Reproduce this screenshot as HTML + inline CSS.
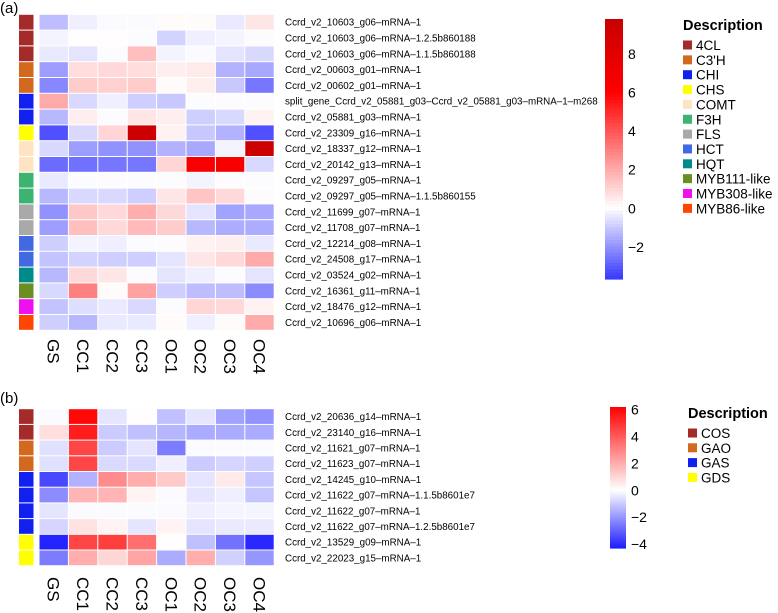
<!DOCTYPE html>
<html><head><meta charset="utf-8"><style>
html,body{margin:0;padding:0;background:#fff;}
svg{display:block;font-family:"Liberation Sans",Arial,sans-serif;}
</style></head><body>
<svg id="chart" width="778" height="613" viewBox="0 0 778 613"></svg>
<script>
const columns = ["GS","CC1","CC2","CC3","OC1","OC2","OC3","OC4"];
const genesA = ["Ccrd_v2_10603_g06–mRNA–1","Ccrd_v2_10603_g06–mRNA–1.2.5b860188","Ccrd_v2_10603_g06–mRNA–1.1.5b860188","Ccrd_v2_00603_g01–mRNA–1","Ccrd_v2_00602_g01–mRNA–1","split_gene_Ccrd_v2_05881_g03–Ccrd_v2_05881_g03–mRNA–1–m268","Ccrd_v2_05881_g03–mRNA–1","Ccrd_v2_23309_g16–mRNA–1","Ccrd_v2_18337_g12–mRNA–1","Ccrd_v2_20142_g13–mRNA–1","Ccrd_v2_09297_g05–mRNA–1","Ccrd_v2_09297_g05–mRNA–1.1.5b860155","Ccrd_v2_11699_g07–mRNA–1","Ccrd_v2_11708_g07–mRNA–1","Ccrd_v2_12214_g08–mRNA–1","Ccrd_v2_24508_g17–mRNA–1","Ccrd_v2_03524_g02–mRNA–1","Ccrd_v2_16361_g11–mRNA–1","Ccrd_v2_18476_g12–mRNA–1","Ccrd_v2_10696_g06–mRNA–1"];
const groupsA = ["4CL","4CL","4CL","C3'H","C3'H","CHI","CHI","CHS","COMT","COMT","F3H","F3H","FLS","FLS","HCT","HCT","HQT","MYB111-like","MYB308-like","MYB86-like"];
const valuesA = [
[-1.2,-0.3,-0.1,-0.1,0.1,0.1,-0.4,0.6],
[-0.2,0.05,0.05,-0.05,-0.8,-0.3,-0.2,-0.05],
[-0.4,-0.5,-0.05,1.5,-0.2,-0.1,-0.5,-0.7],
[-1.8,0.8,0.9,0.8,0.4,0.5,-1.4,-1.6],
[-2.2,1.2,1.1,1.2,0.1,0.4,-1.0,-2.5],
[2.0,-0.7,-0.3,-0.9,-1.0,-0.05,-0.05,-0.05],
[-1.3,0.4,-0.05,0.6,0.4,-0.9,-0.7,0.3],
[-3.2,-0.7,1.0,9.5,0.3,-1.0,-1.4,-3.2],
[-0.7,-1.8,-2.0,-2.0,-1.4,-1.6,-0.2,9.5],
[-2.7,-2.6,-2.5,-2.5,1.0,6.5,6.5,-0.7],
[-0.4,-0.05,-0.05,-0.05,-0.05,-0.2,-0.05,-0.05],
[-1.3,-0.7,-0.7,-0.9,0.6,1.4,0.9,-0.05],
[-2.0,1.3,0.9,1.9,0.9,-0.5,-1.7,-1.6],
[-1.8,1.5,0.9,1.6,1.2,-1.3,-1.5,-1.5],
[-0.9,-0.2,-0.3,-0.05,-0.05,0.3,0.4,-0.4],
[-1.1,-0.8,-0.9,-0.9,-0.5,0.6,0.9,2.0],
[-1.3,0.9,0.6,-0.05,-0.5,-0.3,-0.05,-0.5],
[-0.7,3.0,0.1,2.2,-0.9,-1.2,-1.2,-2.1],
[-1.1,-0.6,-0.4,-0.7,-0.05,1.0,0.9,0.3],
[-0.9,-1.3,-0.4,-0.4,0.1,-0.3,0.1,2.0]];
const legendA = ["4CL","C3'H","CHI","CHS","COMT","F3H","FLS","HCT","HQT","MYB111-like","MYB308-like","MYB86-like"];
const legendColorsA = ["#a52a2a","#d2691e","#1020f0","#ffff00","#ffe4c4","#3cb371","#a9a9a9","#4169e1","#008b8b","#6b8e23","#ee10ee","#ff4500"];
const ticksA = [8,6,4,2,0,-2];
const genesB = ["Ccrd_v2_20636_g14–mRNA–1","Ccrd_v2_23140_g16–mRNA–1","Ccrd_v2_11621_g07–mRNA–1","Ccrd_v2_11623_g07–mRNA–1","Ccrd_v2_14245_g10–mRNA–1","Ccrd_v2_11622_g07–mRNA–1.1.5b8601e7","Ccrd_v2_11622_g07–mRNA–1","Ccrd_v2_11622_g07–mRNA–1.2.5b8601e7","Ccrd_v2_13529_g09–mRNA–1","Ccrd_v2_22023_g15–mRNA–1"];
const groupsB = ["COS","COS","GAO","GAO","GAS","GAS","GAS","GAS","GDS","GDS"];
const valuesB = [
[-0.1,6.0,-0.5,0.05,-1.2,-0.5,-1.8,-2.1],
[0.8,5.5,-1.0,-1.2,-1.4,-1.6,-1.6,-1.6],
[-0.6,4.5,-1.0,-0.5,-2.5,-0.1,-0.1,-0.1],
[-0.6,4.5,-0.7,-0.7,-0.3,-1.0,-0.8,-0.9],
[-3.5,-1.5,2.8,2.0,1.3,-0.5,0.5,-1.1],
[-2.2,1.8,1.8,0.3,-0.1,-0.5,-0.3,-1.1],
[-0.5,-0.1,-0.1,-0.1,-0.1,-0.3,-0.2,-0.2],
[-0.8,0.7,0.3,-0.5,0.3,-0.5,-0.4,-0.4],
[-4.2,4.5,4.7,3.5,0.05,-1.2,-2.7,-4.1],
[-2.5,2.0,1.0,2.2,-1.6,2.0,-0.9,-2.0]];
const legendB = ["COS","GAO","GAS","GDS"];
const legendColorsB = ["#a52a2a","#d2691e","#1020f0","#ffff00"];
const ticksB = [6,4,2,0,-2,-4];

const NS="http://www.w3.org/2000/svg";
const svg=document.getElementById('chart');
function el(t,a,p){const e=document.createElementNS(NS,t);for(const k in a)e.setAttribute(k,a[k]);(p||svg).appendChild(e);return e;}
function lerp(a,b,t){return a.map((v,i)=>Math.round(v+(b[i]-v)*t));}
function cmap(stops){return v=>{if(v<=stops[0][0])return 'rgb('+stops[0][1]+')';for(let i=1;i<stops.length;i++){if(v<=stops[i][0]){const t=(v-stops[i-1][0])/(stops[i][0]-stops[i-1][0]);return 'rgb('+lerp(stops[i-1][1],stops[i][1],t)+')';}}return 'rgb('+stops[stops.length-1][1]+')';};}
const colA=cmap([[-3.66,[55,55,255]],[0,[255,255,255]],[6,[255,0,0]],[9.8,[200,0,0]]]);
const colB=cmap([[-4.3,[30,30,255]],[0,[255,255,255]],[6.2,[255,0,0]]]);

function panel(o){
  const g=el('g',{});
  
  
  const t=el('text',{x:0,y:o.labelY,'font-size':15,fill:'#000'},g);t.textContent=o.label;
  
  const cw=29.4, x0=39, rh=o.rh, y0=o.y0;
  const xs=i=>x0+i*cw, ys=j=>y0+j*rh;
  o.values.forEach((row,j)=>{
    const a=el('rect',{x:19,y:ys(j)+0.5,width:14.5,height:rh-1,fill:o.lcolors[o.legend.indexOf(o.groups[j])]},g);
    
    row.forEach((v,i)=>{
      const r=el('rect',{x:xs(i)+0.5,y:ys(j)+0.5,width:cw-1,height:rh-1,fill:o.cmap(v)},g);
      
    });
    const tl=el('text',{x:285,y:ys(j)+rh/2+3.5,'font-size':9.8,fill:'#000'},g);tl.textContent=o.genes[j];
    
  });
  columns.forEach((c,i)=>{
    const cx=xs(i)+cw/2;
    const tc=el('text',{x:cx-6,y:o.colY,'font-size':17,fill:'#000',transform:'rotate(90 '+(cx-6)+' '+o.colY+')'},g);
    tc.textContent=c;
    
  });
  const cb=o.cb, n=80;
  for(let k=0;k<n;k++){
    const v=cb.max-(cb.max-cb.min)*(k+0.5)/n;
    const r=el('rect',{x:cb.x,y:cb.top+k*(cb.bot-cb.top)/n,width:cb.w,height:(cb.bot-cb.top)/n+0.6,fill:o.cmap(v)},g);
    
  }
  const vy=v=>cb.top+(cb.max-v)/(cb.max-cb.min)*(cb.bot-cb.top);
  o.ticks.forEach(v=>{
    const tt=el('text',{x:cb.x+cb.w+5,y:vy(v)+5,'font-size':14,fill:'#000'},g);tt.textContent=v<0?'−'+(-v):String(v);
    
  });
  const lg=o.lg;
  const ht=el('text',{x:lg.x,y:lg.y,'font-size':14.5,'font-weight':'bold',fill:'#000'},g);ht.textContent='Description';
  
  o.legend.forEach((name,k)=>{
    const yy=lg.y+15+k*lg.step;
    const s=el('rect',{x:lg.x,y:yy-4.5,width:9,height:9,fill:o.lcolors[k]},g);
    
    const lt=el('text',{x:lg.x+13,y:yy+5,'font-size':13.5,fill:'#000'},g);lt.textContent=name;
    
  });
}
panel({name:'panel-a',label:'(a)',labelY:13,values:valuesA,genes:genesA,groups:groupsA,legend:legendA,lcolors:legendColorsA,ticks:ticksA,cmap:colA,y0:14.3,rh:15.8,colY:339,
  cb:{x:605,w:18,top:19,bot:279,min:-3.66,max:9.8},lg:{x:683,y:30,step:14.85}});
panel({name:'panel-b',label:'(b)',labelY:403,values:valuesB,genes:genesB,groups:groupsB,legend:legendB,lcolors:legendColorsB,ticks:ticksB,cmap:colB,y0:408.7,rh:15.7,colY:577,
  cb:{x:610,w:16,top:407,bot:548,min:-4.3,max:6.2},lg:{x:688,y:418,step:14.8}});
</script>
</body></html>
